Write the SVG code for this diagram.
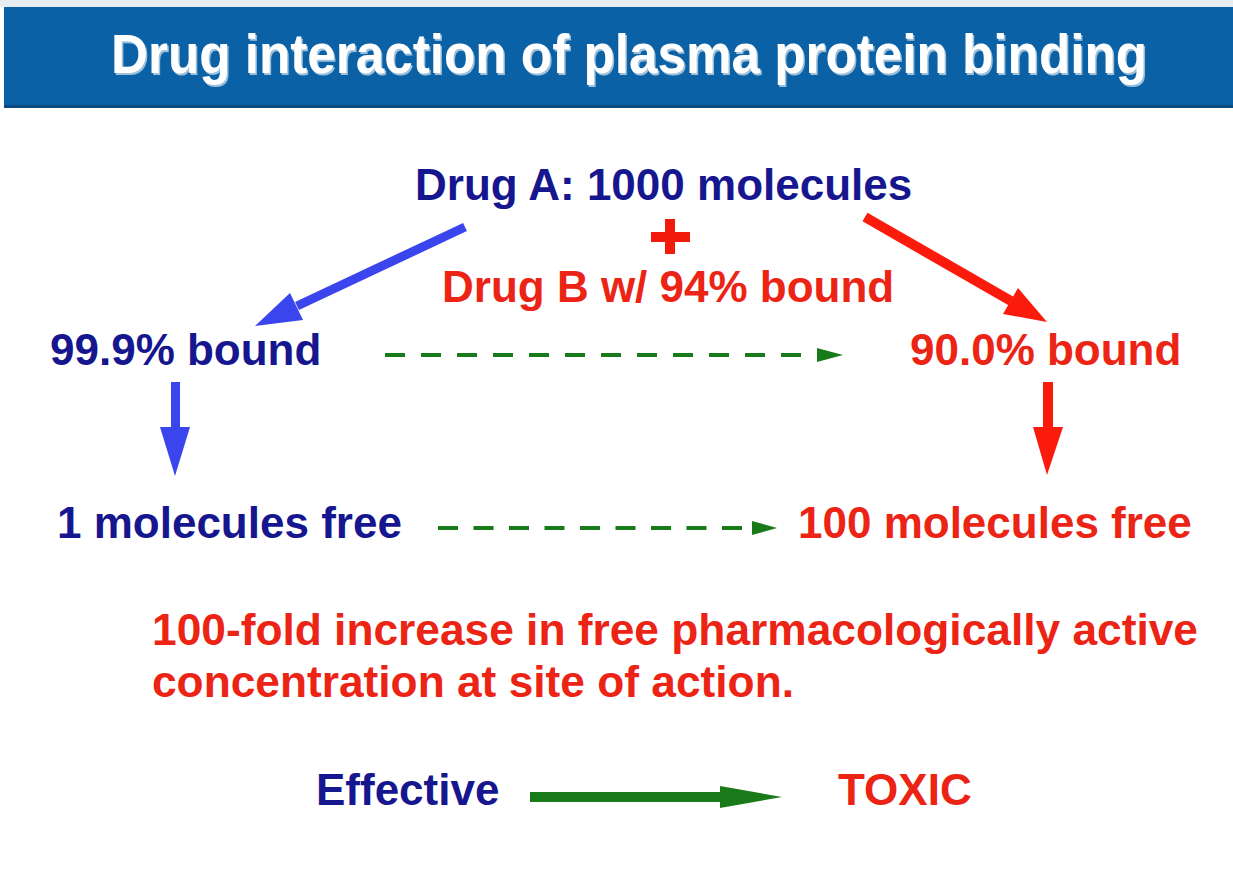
<svg xmlns="http://www.w3.org/2000/svg" width="1233" height="883" viewBox="0 0 1233 883">
  <style>
    .t { font-family: "Liberation Sans", Arial, sans-serif; font-weight: bold; font-size: 44px; }
    .blue { fill: #16168f; }
    .red { fill: #ec2415; }
    .title { font-family: "Liberation Sans", Arial, sans-serif; font-weight: bold; font-size: 55px; fill: #ffffff; }
  </style>
  <rect x="0" y="0" width="1233" height="883" fill="#ffffff"/>
  <rect x="0" y="0" width="1233" height="7" fill="#e9ecee"/>
  <g id="header">
    <rect x="4" y="7" width="1229" height="101" fill="#0b61a5"/>
    <rect x="4" y="105" width="1229" height="3" fill="#0a4a7e"/>
    <text class="title" x="111" y="73" textLength="1036" lengthAdjust="spacingAndGlyphs" fill="#0a3a66" opacity="0.6" transform="translate(1.5,1.5)">Drug interaction of plasma protein binding</text>
    <text class="title" x="111" y="73" textLength="1036" lengthAdjust="spacingAndGlyphs">Drug interaction of plasma protein binding</text>
  </g>
  <g id="drugA"><text class="t blue" x="415" y="200">Drug A: 1000 molecules</text></g>
  <g id="plus">
    <rect x="665" y="219" width="10" height="35" fill="#f21a0c"/>
    <rect x="651" y="232" width="39" height="10" fill="#f21a0c"/>
  </g>
  <g id="drugB"><text class="t red" x="442" y="302">Drug B w/ 94% bound</text></g>
  <g id="bound999"><text class="t blue" x="50" y="365">99.9% bound</text></g>
  <g id="bound900"><text class="t red" x="910" y="365">90.0% bound</text></g>
  <g id="free1"><text class="t blue" x="57" y="538">1 molecules free</text></g>
  <g id="free100"><text class="t red" x="798" y="538">100 molecules free</text></g>
  <g id="increase">
    <text class="t red" x="152" y="645" textLength="1046" lengthAdjust="spacingAndGlyphs">100-fold increase in free pharmacologically active</text>
    <text class="t red" x="152" y="697" textLength="642" lengthAdjust="spacingAndGlyphs">concentration at site of action.</text>
  </g>
  <g id="effective"><text class="t blue" x="316" y="805">Effective</text></g>
  <g id="toxic"><text class="t red" x="838" y="805">TOXIC</text></g>
  <g id="connectors">
    <line x1="465" y1="227" x2="297" y2="306" stroke="#3a45ee" stroke-width="9"/>
    <polygon points="255,326 290,293 303,320" fill="#3a45ee"/>
    <line x1="865" y1="217" x2="1011" y2="301" stroke="#fb1b0c" stroke-width="10"/>
    <polygon points="1047,322 1003,314 1018,288" fill="#fb1b0c"/>
    <line x1="175.5" y1="382" x2="175.5" y2="430" stroke="#3a45ee" stroke-width="9"/>
    <polygon points="160,427 190,427 175,476" fill="#3a45ee"/>
    <line x1="1048" y1="382" x2="1048" y2="430" stroke="#fb1b0c" stroke-width="10"/>
    <polygon points="1033,427 1063,427 1047,475" fill="#fb1b0c"/>
    <line x1="385" y1="355" x2="805" y2="355" stroke="#187a18" stroke-width="4" stroke-dasharray="20 16"/>
    <polygon points="817,348 843,355 817,362" fill="#187a18"/>
    <line x1="438" y1="528" x2="748" y2="528" stroke="#187a18" stroke-width="4" stroke-dasharray="20 15.5"/>
    <polygon points="752,521 777,528 752,535" fill="#187a18"/>
    <line x1="530" y1="797" x2="724" y2="797" stroke="#187a18" stroke-width="10"/>
    <polygon points="720,786 782,797 720,808" fill="#187a18"/>
  </g>
</svg>
